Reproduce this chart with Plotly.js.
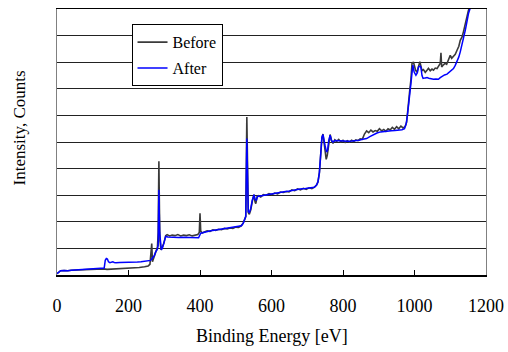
<!DOCTYPE html>
<html>
<head>
<meta charset="utf-8">
<script src="https://cdn.plot.ly/plotly-3.0.1.min.js"></script>
<style>html,body{margin:0;padding:0;background:#fff;}#chart{width:508px;height:352px;}</style>
</head>
<body>
<div id="chart"></div>
<script>
const xTickVals = [0, 200, 400, 600, 800, 1000, 1200];
const xTickText = ["0", "200", "400", "600", "800", "1000", "1200"];
const seriesNames = ["Before", "After"];

const beforeEnergy = [0,5,10,20,30,40,55,70,85,100,115,130,140,155,170,185,200,215,230,245,255,260,263,265,267,270,274,278,281,283,285,286.5,288,291,295,299,304,308,315,322,330,338,346,354,362,370,378,386,394,398,400,402,406,412,420,428,436,444,452,460,468,476,484,492,500,508,515,521,525,528,531,533,535,538,542,546,551,554,556,560,564,570,577,585,593,601,609,617,625,633,641,649,657,665,673,681,689,697,705,713,720,726,730,734,738,741,744,747,750,753,756,760,764,768,772,777,782,788,794,800,806,812,818,824,830,836,842,848,854,860,866,872,878,884,890,896,902,908,914,920,926,932,938,944,950,956,962,968,974,978,982,986,990,993,997,1000,1003,1007,1011,1015,1018,1021,1025,1030,1035,1039,1044,1049,1053,1058,1063,1068,1072,1074,1076,1081,1086,1090,1095,1100,1104,1109,1114,1119,1124,1128,1133,1137,1140,1142,1145,1147,1150,1153,1156];
const beforeCounts = [0.05,0.10,0.16,0.17,0.16,0.18,0.19,0.19,0.20,0.21,0.21,0.23,0.21,0.22,0.24,0.24,0.26,0.27,0.28,0.31,0.34,0.40,0.90,1.18,0.50,0.62,0.72,0.90,1.05,1.60,4.28,2.50,1.30,0.94,1.05,1.20,1.48,1.52,1.47,1.50,1.48,1.52,1.47,1.50,1.48,1.51,1.47,1.50,1.52,1.60,2.32,1.65,1.58,1.62,1.66,1.64,1.70,1.68,1.72,1.70,1.75,1.73,1.77,1.75,1.80,1.79,1.85,1.95,2.10,2.20,5.94,3.00,2.35,2.28,2.45,2.75,3.02,2.75,2.68,2.95,2.98,2.93,3.02,3.00,3.06,3.02,3.08,3.05,3.12,3.10,3.14,3.12,3.20,3.17,3.24,3.20,3.26,3.22,3.28,3.25,3.30,3.38,3.50,3.85,4.70,5.15,5.30,5.00,4.80,4.35,4.50,5.00,5.28,5.05,4.95,5.08,5.02,5.10,5.00,5.06,4.98,5.05,5.00,5.07,5.02,5.08,5.05,5.12,5.10,5.30,5.42,5.35,5.45,5.38,5.43,5.40,5.50,5.42,5.47,5.40,5.50,5.45,5.55,5.48,5.58,5.50,5.60,5.53,5.58,5.75,6.20,6.85,7.35,7.95,8.01,7.80,7.70,7.62,7.82,8.02,7.85,7.68,7.72,7.62,7.70,7.77,7.68,7.74,7.70,7.78,7.76,7.85,7.95,8.35,7.82,7.90,7.96,7.92,8.08,8.26,8.15,8.22,8.30,8.45,8.60,8.82,8.95,9.15,9.35,9.50,9.62,9.72,9.90,10.05,10.25];

const afterEnergy = [0,5,10,20,30,40,55,70,85,100,115,125,132,135,138,141,144,148,152,156,160,165,175,185,195,205,215,225,235,245,255,262,268,272,276,280,283,285,287,290,292,296,299,304,310,320,330,340,350,360,370,380,390,396,402,410,420,430,440,450,460,470,480,490,500,510,516,521,525,528,531,533,535,538,542,546,551,554,557,561,565,575,590,605,620,635,650,665,680,695,710,720,726,730,734,738,741,744,747,750,754,757,760,764,768,772,777,785,795,805,815,825,835,845,855,866,875,885,895,905,915,925,935,945,955,965,972,977,981,984,987,990,993,995.5,999,1004,1008,1011,1016,1018,1021,1024,1030,1035,1040,1047,1053,1060,1067,1072,1077,1084,1091,1100,1109,1114,1119,1124,1128,1133,1137,1142,1145,1147,1151,1155,1158];
const afterCounts = [0.05,0.10,0.16,0.17,0.16,0.18,0.19,0.20,0.21,0.22,0.23,0.24,0.26,0.55,0.62,0.60,0.50,0.46,0.47,0.50,0.47,0.46,0.47,0.47,0.48,0.48,0.49,0.49,0.50,0.52,0.54,0.55,0.66,0.72,0.87,0.95,1.10,3.20,1.60,1.00,0.94,1.05,1.20,1.45,1.43,1.42,1.43,1.41,1.42,1.41,1.42,1.40,1.38,1.40,1.57,1.60,1.64,1.66,1.68,1.70,1.72,1.74,1.76,1.77,1.79,1.82,1.85,1.95,2.10,2.20,5.13,3.00,2.38,2.35,2.50,2.80,3.02,2.85,2.80,2.95,2.96,3.00,3.04,3.07,3.10,3.13,3.16,3.20,3.23,3.25,3.27,3.30,3.38,3.50,3.85,4.72,5.18,5.28,5.02,4.85,4.62,4.70,5.05,5.26,5.05,5.00,5.06,5.05,5.03,5.03,5.03,5.04,5.05,5.07,5.10,5.13,5.20,5.28,5.34,5.38,5.40,5.41,5.42,5.43,5.44,5.46,5.50,5.70,6.10,6.40,6.85,7.20,7.60,7.89,7.63,7.51,7.60,7.82,7.85,7.80,7.50,7.39,7.41,7.42,7.40,7.38,7.36,7.37,7.36,7.42,7.47,7.52,7.55,7.64,7.76,7.88,8.01,8.20,8.39,8.65,8.89,9.20,9.40,9.58,9.83,10.00,10.10];

const serif = 'Liberation Serif';

const traces = [
  {x: beforeEnergy, y: beforeCounts, name: seriesNames[0], type: 'scatter', mode: 'lines',
   line: {color: '#3a3a3a', width: 1.6}, legendgroup: 'a'},
  {x: afterEnergy, y: afterCounts, name: seriesNames[1], type: 'scatter', mode: 'lines',
   line: {color: '#0000ff', width: 1.5}, legendgroup: 'b'}
];

const layout = {
  width: 508, height: 352,
  margin: {l: 57, r: 22, t: 9, b: 77},
  paper_bgcolor: '#fff', plot_bgcolor: '#fff',
  font: {family: serif, color: '#000', size: 18},
  showlegend: true,
  legend: {x: 0.1737, y: 0.9426, xanchor: 'left', yanchor: 'top',
    bgcolor: '#fff', bordercolor: '#000', borderwidth: 1,
    font: {family: serif, size: 16, color: '#000'}, tracegroupgap: 2,
    entrywidth: 50, entrywidthmode: 'pixels'},
  xaxis: {range: [0, 1200], tickvals: xTickVals, ticktext: xTickText,
    ticks: 'inside', ticklen: 5, tickwidth: 1, tickcolor: '#000',
    showline: true, linecolor: '#000', linewidth: 1.5, mirror: true,
    showgrid: false, zeroline: false, ticklabelstandoff: 14,
    tickfont: {family: serif, size: 18, color: '#000'}},
  yaxis: {range: [0, 10], dtick: 1, showticklabels: false, ticks: '',
    showline: true, linecolor: '#808080', linewidth: 1, mirror: true,
    showgrid: true, gridcolor: '#222', gridwidth: 1, zeroline: false},
  annotations: [
    {text: 'Binding Energy [eV]', xref: 'paper', yref: 'paper', x: 0.5, y: -0.229,
     xanchor: 'center', yanchor: 'middle', showarrow: false,
     font: {family: serif, size: 18, color: '#000'}},
    {text: 'Intensity, Counts', xref: 'paper', yref: 'paper', x: -0.0863, y: 0.5545,
     xanchor: 'center', yanchor: 'middle', textangle: -90, showarrow: false,
     font: {family: serif, size: 17, color: '#000'}}
  ]
};

Plotly.newPlot('chart', traces, layout, {staticPlot: true, displayModeBar: false});
</script>
</body>
</html>
